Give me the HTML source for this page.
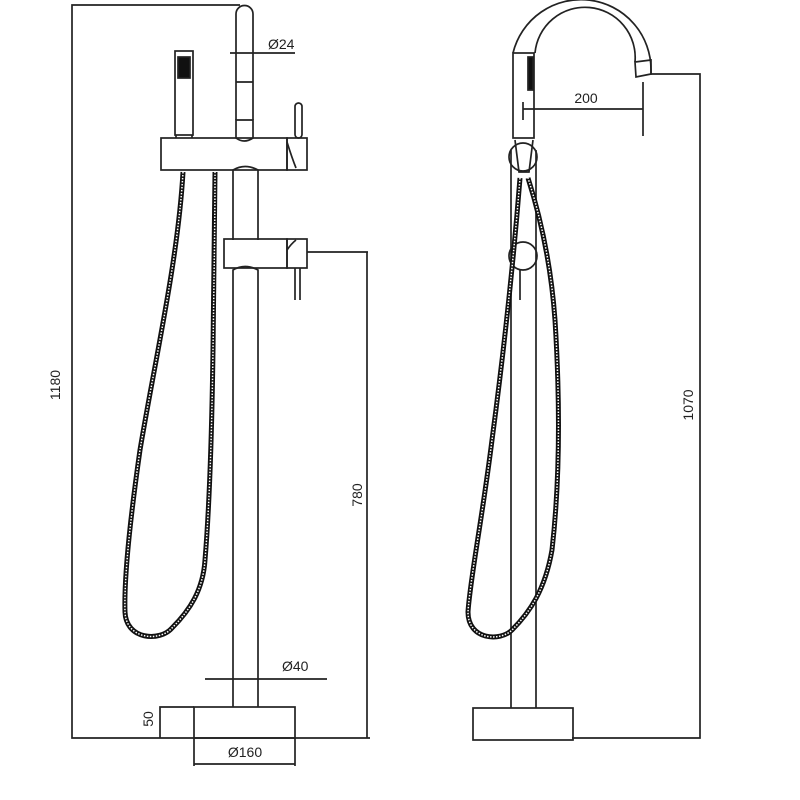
<!DOCTYPE html>
<html><head><style>html,body{margin:0;padding:0;background:#fff}svg{display:block}</style></head>
<body>
<svg width="800" height="800" viewBox="0 0 800 800" xmlns="http://www.w3.org/2000/svg" font-family="Liberation Sans, sans-serif" font-size="14" fill="none" stroke="#222" stroke-width="1.7">
<!-- LEFT VIEW -->
<polyline points="240,5 72,5 72,738 370,738"/>
<text x="60" y="385" fill="#222" stroke="none" transform="rotate(-90 60 385)" text-anchor="middle">1180</text>
<path d="M236,120 L236,14 A8.5,8.5 0 0 1 253,14 L253,120"/>
<line x1="236" y1="82" x2="253" y2="82"/>
<path d="M236,120 L236,138 Q244,144 253,138 L253,120 Z"/>
<line x1="230" y1="53" x2="295" y2="53"/>
<text x="268" y="49" fill="#222" stroke="none">Ø24</text>
<rect x="175" y="51" width="18" height="84"/>
<rect x="178" y="57" width="12" height="21" fill="#111"/>
<line x1="176" y1="135" x2="176" y2="138"/><line x1="192" y1="135" x2="192" y2="138"/>
<rect x="161" y="138" width="126" height="32"/>
<rect x="287" y="138" width="20" height="32"/>
<path d="M287,142 Q292,158 296,168"/>
<rect x="295" y="103" width="7" height="35" rx="3.5"/>
<path d="M233,240 L233,170 Q245,163 258,170 L258,240"/>
<rect x="224" y="239" width="63" height="29"/>
<rect x="287" y="239" width="20" height="29"/>
<path d="M287,250 Q291,244 296,240"/>
<line x1="307" y1="252" x2="368" y2="252"/>
<line x1="295" y1="268" x2="295" y2="300"/><line x1="300" y1="268" x2="300" y2="300"/>
<path d="M233,707 L233,270 Q245,263 258,270 L258,707"/>
<line x1="367" y1="252" x2="367" y2="738"/>
<text x="362" y="495" fill="#222" stroke="none" transform="rotate(-90 362 495)" text-anchor="middle">780</text>
<line x1="205" y1="679" x2="327" y2="679"/>
<text x="282" y="671" fill="#222" stroke="none">Ø40</text>
<rect x="194" y="707" width="101" height="31"/>
<polyline points="194,707 160,707 160,738"/>
<text x="153" y="719" fill="#222" stroke="none" transform="rotate(-90 153 719)" text-anchor="middle">50</text>
<line x1="194" y1="738" x2="194" y2="766"/><line x1="295" y1="738" x2="295" y2="766"/>
<line x1="194" y1="764" x2="295" y2="764"/>
<text x="245" y="757" fill="#222" stroke="none" text-anchor="middle">Ø160</text>
<path d="M183,172 C178,260 155,360 140,450 C130,520 124,580 125,612 C126,640 160,642 172,628 C190,610 203,590 205,560 C210,500 212,420 213,350 C214,280 215,220 215,172" stroke="#111" stroke-width="5"/>
<path d="M183,172 C178,260 155,360 140,450 C130,520 124,580 125,612 C126,640 160,642 172,628 C190,610 203,590 205,560 C210,500 212,420 213,350 C214,280 215,220 215,172" stroke="#fff" stroke-width="1.5" stroke-dasharray="1.5 1.5"/>
<!-- RIGHT VIEW -->
<path d="M513,53 A70,70 0 0 1 651,70 L651,74"/>
<path d="M535,53 A50,50 0 0 1 635,62"/>
<path d="M635,62 L651,60 L651,74 L636,77 Z"/>
<rect x="513" y="53" width="21" height="85"/>
<rect x="528" y="57" width="5" height="33" fill="#111"/>
<line x1="523" y1="109" x2="643" y2="109"/>
<line x1="523" y1="102" x2="523" y2="120"/>
<line x1="643" y1="82" x2="643" y2="136"/>
<text x="586" y="103" fill="#222" stroke="none" text-anchor="middle">200</text>
<polyline points="651,74 700,74 700,738 572,738"/>
<text x="693" y="405" fill="#222" stroke="none" transform="rotate(-90 693 405)" text-anchor="middle">1070</text>
<circle cx="523" cy="157" r="14"/>
<path d="M515,140 L519,172 L529,172 L533,140"/>
<circle cx="523" cy="256" r="14"/>
<line x1="511" y1="150" x2="511" y2="708"/>
<line x1="536" y1="150" x2="536" y2="708"/>
<line x1="520" y1="270" x2="520" y2="300"/>
<rect x="473" y="708" width="100" height="32"/>
<path d="M520,178 C512,280 500,380 492,440 C482,520 470,580 468,612 C468,640 500,642 512,630 C530,612 545,590 552,550 C560,480 560,400 555,320 C550,250 535,200 528,178" stroke="#111" stroke-width="5"/>
<path d="M520,178 C512,280 500,380 492,440 C482,520 470,580 468,612 C468,640 500,642 512,630 C530,612 545,590 552,550 C560,480 560,400 555,320 C550,250 535,200 528,178" stroke="#fff" stroke-width="1.5" stroke-dasharray="1.5 1.5"/>
</svg>
</body></html>
